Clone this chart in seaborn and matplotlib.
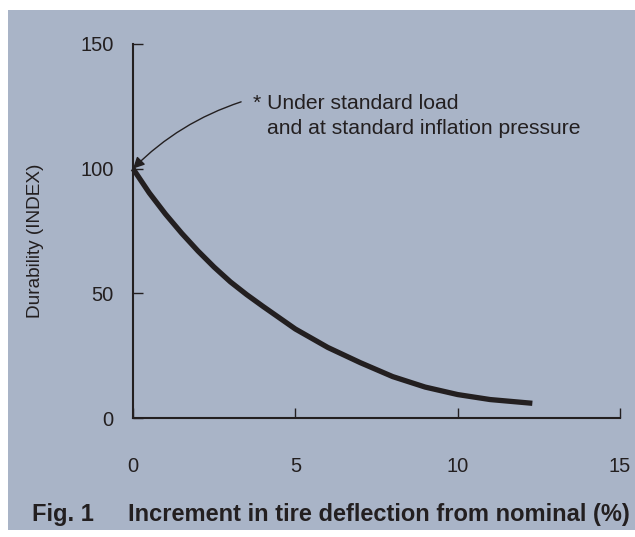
import matplotlib
matplotlib.use("Agg")
import matplotlib.pyplot as plt
import seaborn as sns
import pandas as pd
from matplotlib.patches import Rectangle

# values
deflection = [0, 0.5, 1, 1.5, 2, 2.5, 3, 3.5, 4, 5, 6, 7, 8, 9, 10, 11, 12.3]
durability = [100, 90.3, 81.8, 74.1, 67.0, 60.5, 54.6, 49.5, 44.8, 35.7, 28.3,
              22.2, 16.6, 12.4, 9.4, 7.4, 5.9]
x_ticks = [0, 5, 10, 15]
y_ticks = [0, 50, 100, 150]

bg = "#a9b4c7"
ink = "#231f20"

sns.set_style("ticks")
plt.rcParams["font.family"] = ["Liberation Sans", "DejaVu Sans"]

data = pd.DataFrame({"deflection": deflection, "durability": durability})

fig = plt.figure(figsize=(6.35, 5.37), dpi=100)
fig.patch.set_facecolor("white")
fig.patches.append(Rectangle((8 / 635, 7 / 537), 1, 520 / 537,
                             transform=fig.transFigure, facecolor=bg,
                             edgecolor="none", zorder=-10))

ax = fig.add_axes([133 / 635, 1 - 418 / 537, 487 / 635, 374 / 537])
ax.set_facecolor(bg)

sns.lineplot(data=data, x="deflection", y="durability", ax=ax, color=ink,
             linewidth=3.8, estimator=None, solid_capstyle="butt",
             solid_joinstyle="round", clip_on=False)

ax.set_xlim(0, 15)
ax.set_ylim(0, 150)
ax.set_xticks(x_ticks)
ax.set_yticks(y_ticks)
ax.set_xlabel("")
ax.set_ylabel("")
sns.despine(ax=ax)
for side in ["left", "bottom"]:
    ax.spines[side].set_color(ink)
    ax.spines[side].set_linewidth(1.5)
ax.tick_params(axis="x", direction="in", length=7.2, width=1, color=ink,
               pad=28, labelsize=14.5, labelcolor=ink)
ax.tick_params(axis="y", direction="in", length=7.2, width=1, color=ink,
               pad=14, labelsize=14.5, labelcolor=ink)

ax.text(-0.2, 0.475, "Durability (INDEX)", transform=ax.transAxes,
        rotation=90, ha="center", va="center", fontsize=13.7, color=ink)

# annotation pointing at the standard point
ax.annotate("", xy=(0, 100), xytext=(3.33, 126.8),
            arrowprops=dict(arrowstyle="-|>", color=ink, lw=1.0,
                            mutation_scale=17, shrinkA=0, shrinkB=0,
                            connectionstyle="arc3,rad=0.12"))
fig.text(253 / 635, 1 - 109.3 / 537, "* Under standard load",
         ha="left", va="baseline", fontsize=15.2, color=ink)
fig.text(266.7 / 635, 1 - 134 / 537, "and at standard inflation pressure",
         ha="left", va="baseline", fontsize=15.2, color=ink)

fig.text(31.7 / 635, 1 - 521.5 / 537, "Fig. 1", ha="left", va="baseline",
         fontsize=17, fontweight="bold", color=ink)
fig.text(128 / 635, 1 - 521.5 / 537, "Increment in tire deflection from nominal (%)",
         ha="left", va="baseline", fontsize=17, fontweight="bold", color=ink)

fig.savefig("out.png", dpi=100, facecolor=fig.get_facecolor())
